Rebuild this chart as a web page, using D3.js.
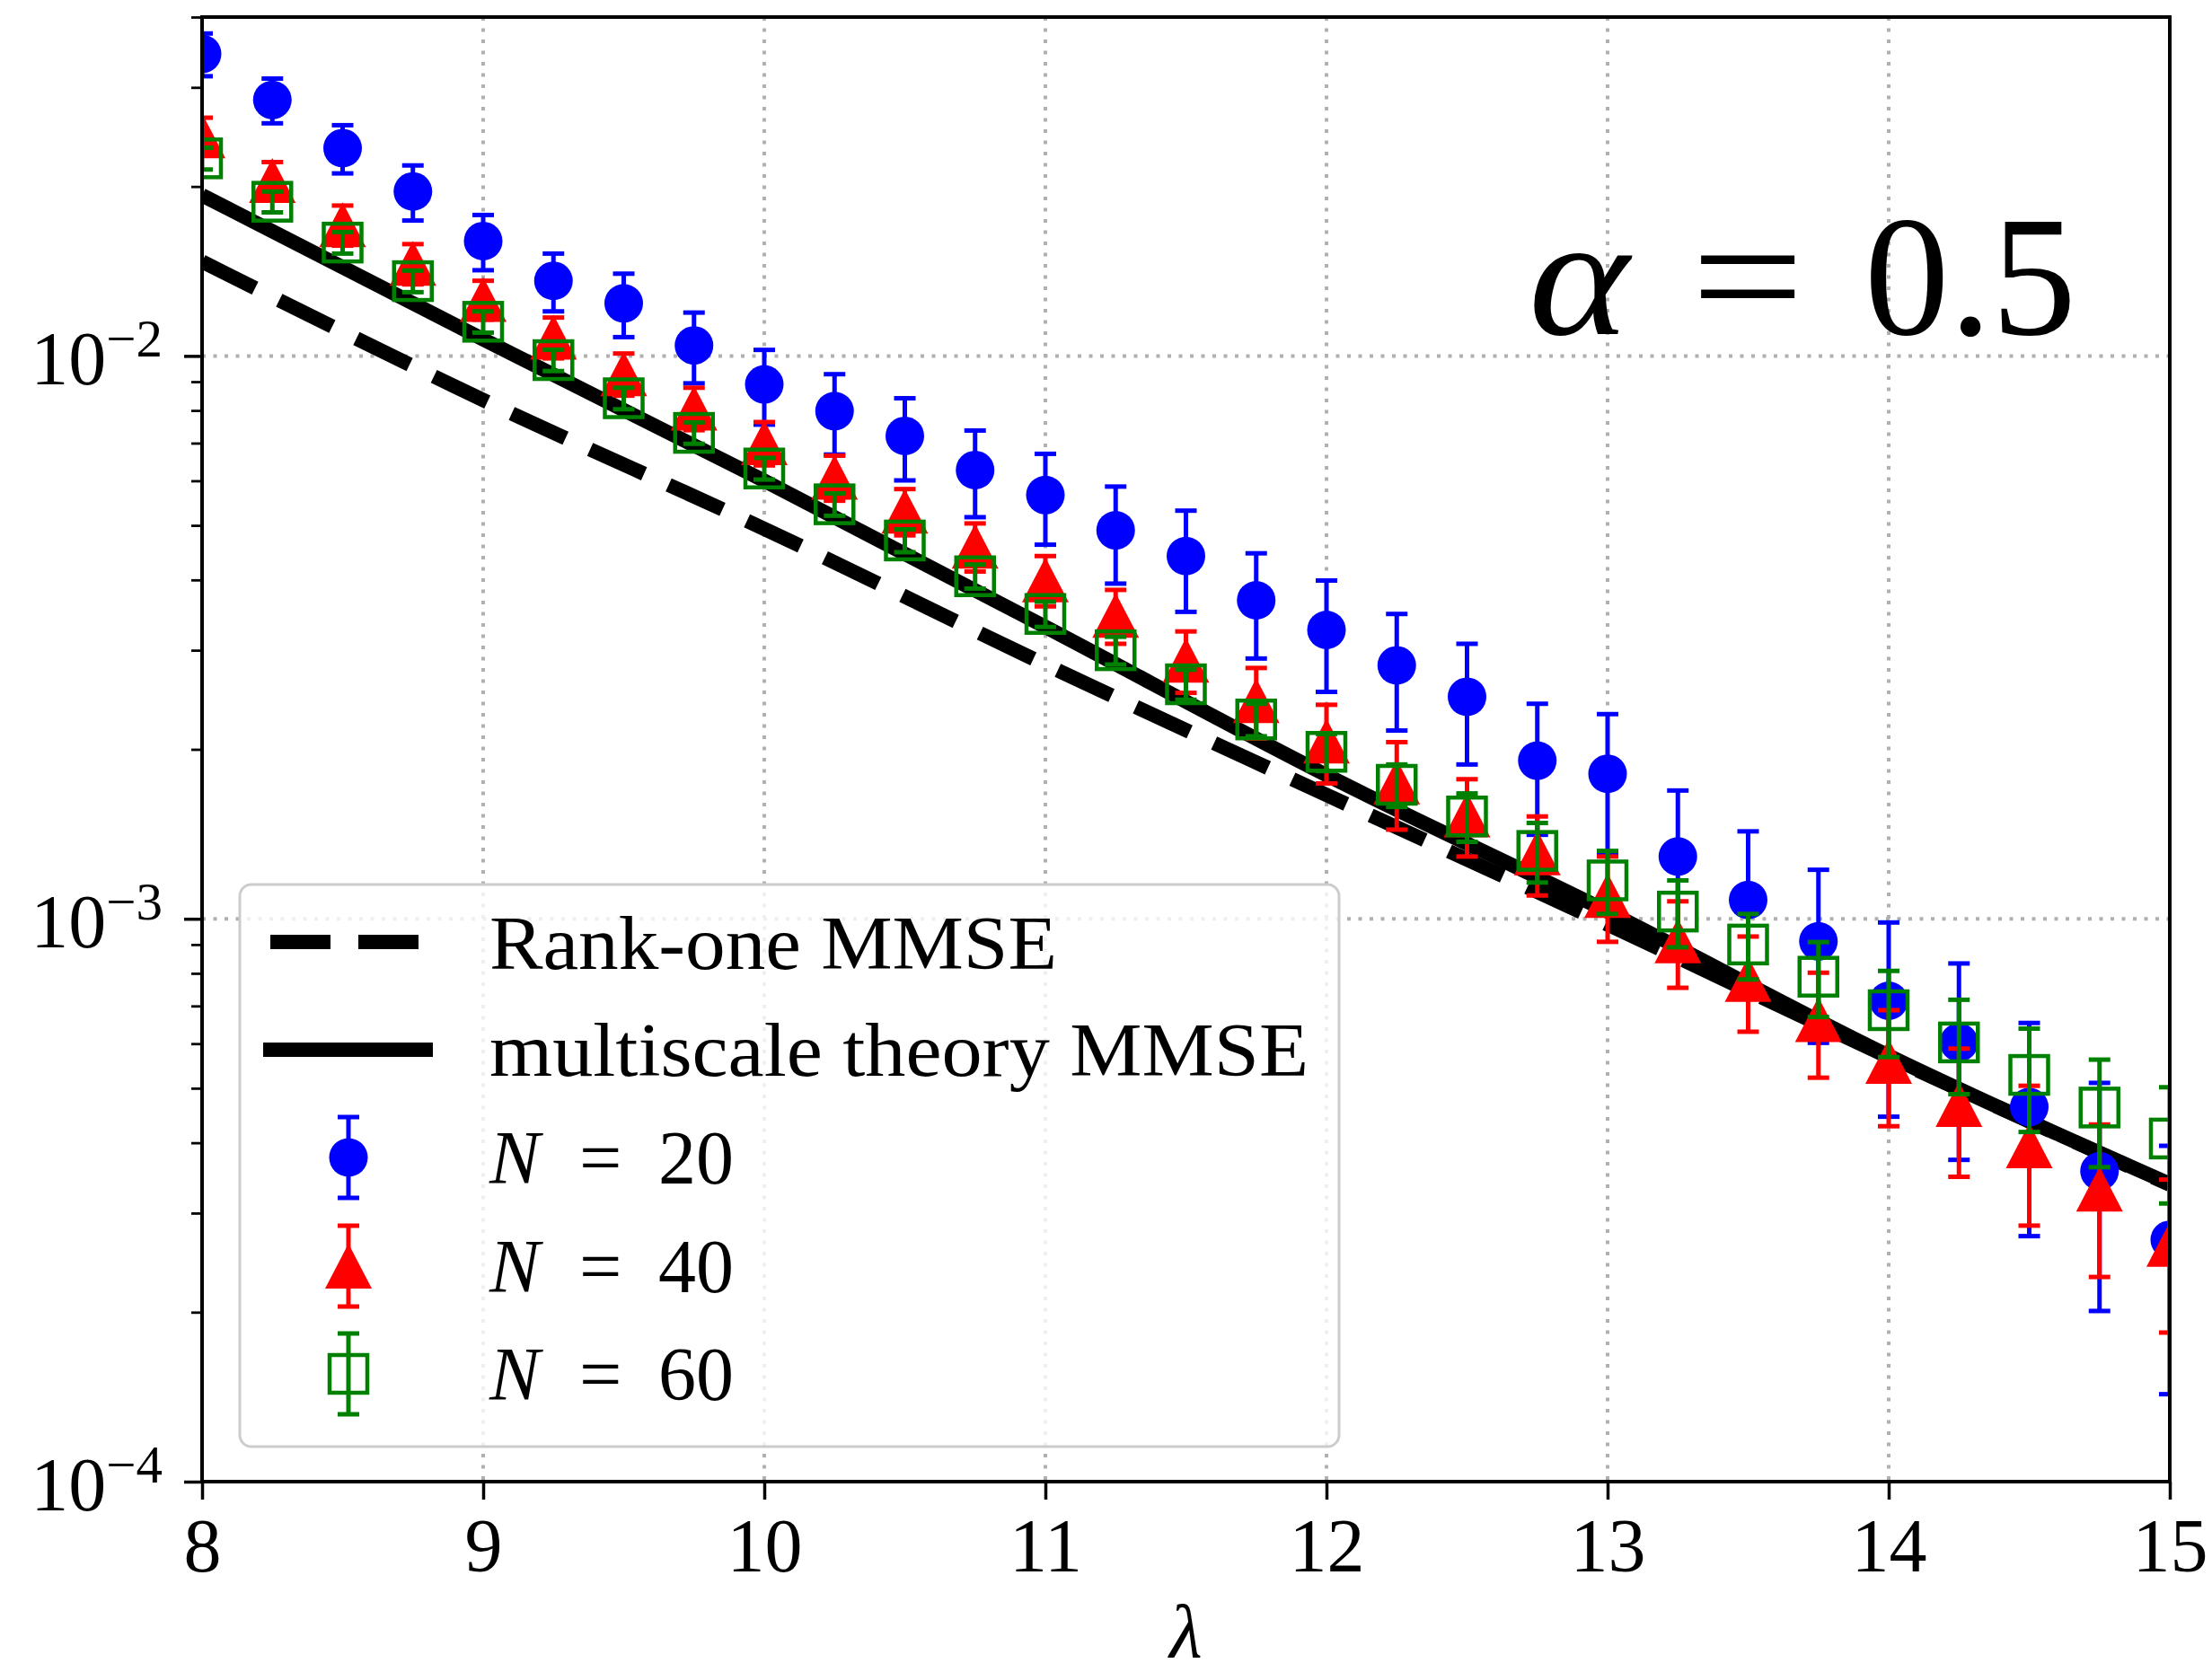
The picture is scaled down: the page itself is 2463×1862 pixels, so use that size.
<!DOCTYPE html>
<html>
<head>
<meta charset="utf-8">
<script src="https://cdn.jsdelivr.net/npm/d3@7"></script>
<style>
    body { margin: 0; background: #fff; }
    svg text { font-family: "Liberation Serif", "DejaVu Serif", serif; fill: #000; }
</style>
</head>
<body>
<div id="chart"></div>
<script>
// lambda values of the simulated points
const lambdas = [8, 8.25, 8.5, 8.75, 9, 9.25, 9.5, 9.75, 10, 10.25, 10.5, 10.75, 11, 11.25, 11.5,
    11.75, 12, 12.25, 12.5, 12.75, 13, 13.25, 13.5, 13.75, 14, 14.25, 14.5, 14.75, 15];

// N = 20
const mseN20 = [0.0344, 0.0285, 0.0234, 0.0196, 0.0160, 0.0136, 0.0124, 0.01044, 0.0089, 0.00798,
    0.00721, 0.00627, 0.00566, 0.0049, 0.00441, 0.00368, 0.00326, 0.00282, 0.00248, 0.00191,
    0.00181, 0.00129, 0.00108, 0.000912, 0.000715, 0.000603, 0.000463, 0.000356, 0.000269];
const errN20 = [0.0030, 0.0026, 0.0023, 0.0022, 0.0018, 0.0016, 0.0016, 0.0015, 0.00135, 0.0013,
    0.0012, 0.0011, 0.00104, 0.00096, 0.0009, 0.00078, 0.00073, 0.00066, 0.0006, 0.0005,
    0.0005, 0.0004, 0.00035, 0.00031, 0.00027, 0.00023, 0.00019, 0.000155, 0.000126];

// N = 40
const mseN40 = [0.0246, 0.0205, 0.0171, 0.0146, 0.0126, 0.0108, 0.0093, 0.00808, 0.00701, 0.00609,
    0.0053, 0.00459, 0.0040, 0.00346, 0.00288, 0.00244, 0.00207, 0.00175, 0.00153, 0.00131,
    0.00110, 0.000914, 0.00078, 0.000662, 0.000558, 0.000468, 0.000395, 0.000331, 0.000264];
const errN40 = [0.0019, 0.0016, 0.0014, 0.0012, 0.0010, 0.0009, 0.0008, 0.0007, 0.00062, 0.00056,
    0.0005, 0.00045, 0.00041, 0.00038, 0.00036, 0.00035, 0.00033, 0.00031, 0.00024, 0.00021,
    0.00019, 0.00016, 0.00015, 0.00014, 0.00013, 0.00012, 0.00011, 0.0001, 0.00008];

// N = 60
const mseN60 = [0.02244, 0.01879, 0.0159, 0.01358, 0.0115, 0.00983, 0.00841, 0.0073, 0.00631, 0.00545,
    0.0047, 0.00406, 0.00348, 0.0030, 0.00261, 0.00226, 0.00198, 0.00173, 0.00152, 0.00132,
    0.00117, 0.00103, 0.0009, 0.000789, 0.000688, 0.000603, 0.000528, 0.000462, 0.000407];
const errN60 = [0.0010, 0.0008, 0.0007, 0.0006, 0.0005, 0.00043, 0.00037, 0.00032, 0.00028, 0.00025,
    0.00022, 0.0002, 0.00018, 0.00017, 0.00016, 0.00015, 0.00015, 0.00015, 0.00015, 0.00016,
    0.00015, 0.00014, 0.00012, 0.00012, 0.00012, 0.000115, 0.00011, 0.0001, 0.000095];

// theory curves
const theoryLambdas = [8, 9, 10, 11, 12, 13, 14, 15];
const rankOneMmse = [0.01471, 0.00835, 0.00493, 0.00283, 0.00166, 0.000977, 0.000568, 0.000337];
const multiscaleMmse = [0.0193, 0.0107, 0.0060, 0.0033, 0.00180, 0.00103, 0.000571, 0.000338];

// ticks
const xTicks = [8, 9, 10, 11, 12, 13, 14, 15];
const yTicks = [1e-4, 1e-3, 1e-2];
const yTickExponents = ['\u22124', '\u22123', '\u22122'];
const yMinorTicks = [2e-4, 3e-4, 4e-4, 5e-4, 6e-4, 7e-4, 8e-4, 9e-4,
    2e-3, 3e-3, 4e-3, 5e-3, 6e-3, 7e-3, 8e-3, 9e-3, 2e-2, 3e-2, 4e-2];

function mmsePlot() {

    let margin = {top: 19, left: 225, right: 47, bottom: 212},
        width = 2463 - margin.left - margin.right,
        height = 1862 - margin.top - margin.bottom,
        fontSize = 84,
        lineWidth = 16;

    let series = [
        {label: '20', values: mseN20, errs: errN20, color: '#0000ff', marker: 'circle'},
        {label: '40', values: mseN40, errs: errN40, color: '#ff0000', marker: 'triangle'},
        {label: '60', values: mseN60, errs: errN60, color: '#008000', marker: 'square'}
    ];

    let x = d3.scaleLinear().domain([8, 15]).range([0, width]),
        y = d3.scaleLog().domain([1e-4, 0.04]).range([height, 0]);

    let svg = d3.select('#chart').append('svg')
        .attr('width', 2463)
        .attr('height', 1862);

    svg.append('rect').attr('width', 2463).attr('height', 1862).attr('fill', '#fff');

    let g = svg.append('g').attr('transform', `translate(${margin.left},${margin.top})`);

    svg.append('clipPath').attr('id', 'plot-clip')
        .append('rect').attr('width', width).attr('height', height);

    // dotted grid on major ticks
    let grid = g.append('g')
        .attr('stroke', '#b0b0b0')
        .attr('stroke-width', 4)
        .attr('stroke-dasharray', '4,8.5');
    grid.selectAll('.vgrid').data(xTicks.slice(1, -1)).join('line')
        .attr('x1', d => x(d)).attr('x2', d => x(d))
        .attr('y1', 0).attr('y2', height);
    grid.selectAll('.hgrid').data(yTicks.slice(1)).join('line')
        .attr('x1', 0).attr('x2', width)
        .attr('y1', d => y(d)).attr('y2', d => y(d));

    let plot = g.append('g').attr('clip-path', 'url(#plot-clip)');

    // theory curves
    let line = d3.line()
        .x(d => x(d.l))
        .y(d => y(d.v))
        .curve(d3.curveMonotoneX);

    plot.append('path')
        .datum(theoryLambdas.map((l, i) => ({l: l, v: rankOneMmse[i]})))
        .attr('d', line)
        .attr('fill', 'none')
        .attr('stroke', '#000')
        .attr('stroke-width', lineWidth)
        .attr('stroke-dasharray', '66,30');

    plot.append('path')
        .datum(theoryLambdas.map((l, i) => ({l: l, v: multiscaleMmse[i]})))
        .attr('d', line)
        .attr('fill', 'none')
        .attr('stroke', '#000')
        .attr('stroke-width', lineWidth);

    // draws one marker centred at 0,0
    function drawMarker(sel, type, color) {
        if (type === 'circle') {
            sel.append('circle').attr('r', 21.5).attr('fill', color);
        } else if (type === 'triangle') {
            sel.append('path').attr('d', 'M0,-25L26,25L-26,25Z').attr('fill', color);
        } else {
            sel.append('rect').attr('x', -21).attr('y', -21).attr('width', 42).attr('height', 42)
                .attr('fill', 'none').attr('stroke', color).attr('stroke-width', 4.5);
        }
    }

    // error bar with caps, from y0 to y1 (pixels)
    function drawErrorBar(sel, y0, y1, color) {
        sel.append('line').attr('x1', 0).attr('x2', 0).attr('y1', y0).attr('y2', y1)
            .attr('stroke', color).attr('stroke-width', 5);
        [y0, y1].forEach(yy => sel.append('line')
            .attr('x1', -12).attr('x2', 12).attr('y1', yy).attr('y2', yy)
            .attr('stroke', color).attr('stroke-width', 5));
    }

    // simulated points
    series.forEach(s => {
        let pts = lambdas.map((l, i) => ({l: l, v: s.values[i], e: s.errs[i]}));
        let sg = plot.append('g');
        sg.selectAll('g.bar').data(pts).join('g')
            .attr('transform', d => `translate(${x(d.l)},${y(d.v)})`)
            .each(function (d) {
                drawErrorBar(d3.select(this), y(d.v + d.e) - y(d.v), y(d.v - d.e) - y(d.v), s.color);
            });
        sg.selectAll('g.mark').data(pts).join('g')
            .attr('transform', d => `translate(${x(d.l)},${y(d.v)})`)
            .each(function () { drawMarker(d3.select(this), s.marker, s.color); });
    });

    // x axis
    let xAxis = g.append('g')
        .attr('transform', `translate(0,${height})`)
        .call(d3.axisBottom(x).tickValues(xTicks).tickFormat(d3.format('d')).tickSize(20).tickSizeOuter(0));
    xAxis.select('.domain').remove();
    xAxis.attr('font-size', fontSize).attr('font-family', null);
    xAxis.selectAll('.tick line').attr('stroke-width', 3.5);
    xAxis.selectAll('.tick text').attr('y', 100).attr('dy', null);

    // y axis, major ticks
    let yAxis = g.append('g')
        .call(d3.axisLeft(y).tickValues(yTicks).tickSize(20).tickSizeOuter(0));
    yAxis.select('.domain').remove();
    yAxis.attr('font-size', fontSize).attr('font-family', null);
    yAxis.selectAll('.tick line').attr('stroke-width', 3.5);
    yAxis.selectAll('.tick text').each(function (d, i) {
        let t = d3.select(this).text(null).attr('x', -44).attr('y', 31).attr('dy', null);
        t.append('tspan').text('10');
        t.append('tspan').attr('dy', -31).attr('font-size', 59).text(yTickExponents[i]);
    });

    // y axis, minor ticks
    let yMinor = g.append('g')
        .call(d3.axisLeft(y).tickValues(yMinorTicks).tickSize(12).tickFormat('').tickSizeOuter(0));
    yMinor.select('.domain').remove();
    yMinor.selectAll('.tick line').attr('stroke-width', 2.8);

    // frame
    g.append('rect')
        .attr('width', width).attr('height', height)
        .attr('fill', 'none').attr('stroke', '#000').attr('stroke-width', 4);

    // x label
    g.append('text')
        .attr('x', width / 2).attr('y', 1826)
        .attr('text-anchor', 'middle')
        .attr('font-size', fontSize)
        .attr('font-style', 'italic')
        .text('\u03bb');

    // alpha annotation
    let note = g.append('g').attr('transform', 'translate(0,353)').attr('font-size', 191);
    note.append('text').attr('x', 1477).attr('font-style', 'italic')
        .attr('textLength', 112).attr('lengthAdjust', 'spacingAndGlyphs').text('\u03b1');
    note.append('text').attr('x', 1658)
        .attr('textLength', 126).attr('lengthAdjust', 'spacingAndGlyphs').text('=');
    note.append('text').attr('x', 1851)
        .attr('textLength', 236).attr('lengthAdjust', 'spacingAndGlyphs').text('0.5');

    // legend
    let legend = g.append('g').attr('transform', 'translate(42,966)');
    legend.append('rect')
        .attr('width', 1224).attr('height', 626)
        .attr('rx', 13).attr('ry', 13)
        .attr('fill', '#fff').attr('fill-opacity', 0.8)
        .attr('stroke', '#cccccc').attr('stroke-width', 3);

    let rowY = [64, 184, 304, 425, 545],
        handleX0 = 34, handleX1 = 207, handleXc = 121, textX = 278;

    legend.append('line')
        .attr('x1', handleX0).attr('x2', handleX1).attr('y1', rowY[0]).attr('y2', rowY[0])
        .attr('stroke', '#000').attr('stroke-width', lineWidth).attr('stroke-dasharray', '67,31');
    legend.append('text').attr('x', textX).attr('y', rowY[0] + 30)
        .attr('font-size', fontSize)
        .attr('textLength', 632).attr('lengthAdjust', 'spacingAndGlyphs')
        .text('Rank-one MMSE');

    legend.append('line')
        .attr('x1', handleX0).attr('x2', handleX1).attr('y1', rowY[1]).attr('y2', rowY[1])
        .attr('stroke', '#000').attr('stroke-width', lineWidth).attr('stroke-linecap', 'square');
    legend.append('text').attr('x', textX).attr('y', rowY[1] + 29)
        .attr('font-size', fontSize)
        .attr('textLength', 912).attr('lengthAdjust', 'spacingAndGlyphs')
        .text('multiscale theory MMSE');

    series.forEach((s, i) => {
        let ry = rowY[i + 2];
        let h = legend.append('g').attr('transform', `translate(${handleXc},${ry})`);
        drawErrorBar(h, -45, 45, s.color);
        drawMarker(h, s.marker, s.color);
        let t = legend.append('text').attr('y', ry + 29).attr('font-size', fontSize);
        t.append('tspan').attr('x', textX).attr('font-style', 'italic').text('N');
        t.append('tspan').attr('x', textX + 100).text('=');
        t.append('tspan').attr('x', textX + 188).text(s.label);
    });
}

mmsePlot();
</script>
</body>
</html>
